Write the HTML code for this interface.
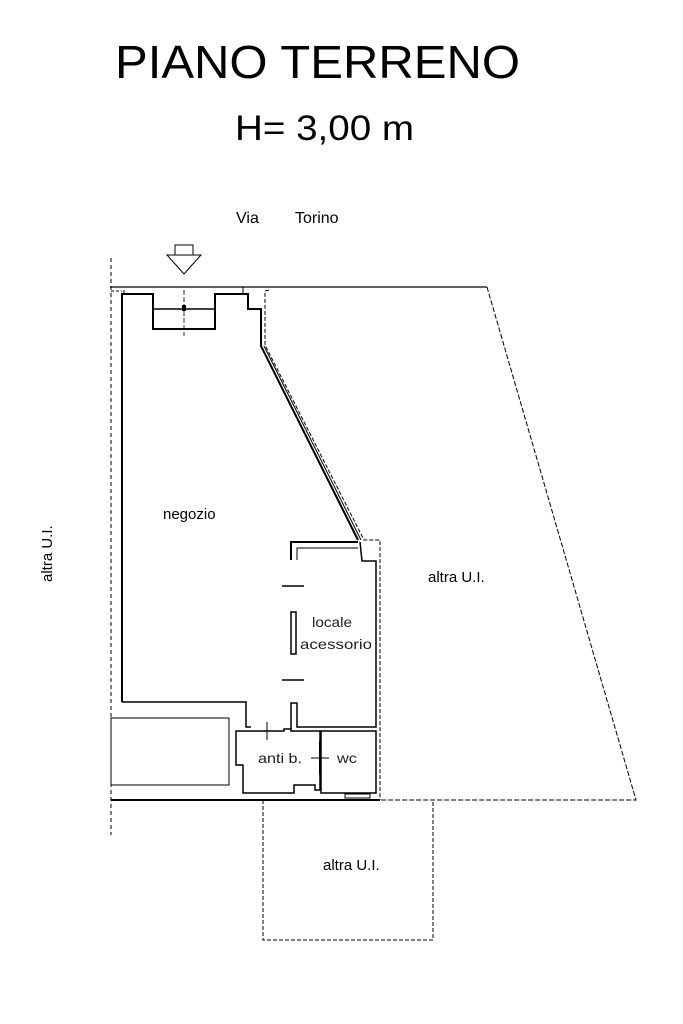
<!DOCTYPE html>
<html><head><meta charset="utf-8"><style>html,body{margin:0;padding:0;background:#fff}svg{display:block}text{font-family:"Liberation Sans",Arial,sans-serif}</style></head>
<body>
<svg width="683" height="1024" viewBox="0 0 683 1024" xmlns="http://www.w3.org/2000/svg">
<rect width="683" height="1024" fill="#fff"/>
<text x="115" y="78" font-size="46" textLength="405" lengthAdjust="spacingAndGlyphs">PIANO TERRENO</text>
<text x="235" y="140" font-size="35" textLength="179" lengthAdjust="spacingAndGlyphs">H= 3,00 m</text>
<text x="236" y="223" font-size="16">Via</text>
<text x="295" y="223" font-size="16">Torino</text>
<g fill="none" stroke="#000">
<rect x="175" y="245" width="18" height="10" stroke-width="1"/>
<path d="M167 255 L201 255 L184 274 Z" stroke-width="1"/>
<line x1="110" y1="287" x2="487" y2="287" stroke-width="1.2"/>
<line x1="111" y1="258" x2="111" y2="835" stroke-width="1" stroke-dasharray="4,3"/>
<line x1="111" y1="291" x2="122" y2="291" stroke-width="1" stroke-dasharray="3,2"/>
<path d="M122 702 L122 294 L153 294 L153 329 L215 329 L215 294 L248 294 L248 309 L261 309 L261 346 L358 540" stroke-width="2"/>
<line x1="153" y1="309" x2="215" y2="309" stroke-width="1.5"/>
<line x1="124" y1="290" x2="124" y2="294" stroke-width="1"/>
<line x1="243" y1="287" x2="243" y2="294" stroke-width="1"/>
<line x1="184" y1="290" x2="184" y2="336" stroke-width="0.8" stroke-dasharray="5,2"/>
<rect x="182" y="305" width="4" height="6" fill="#000" stroke="none"/>
<line x1="264" y1="346" x2="361" y2="540" stroke-width="1"/>
<path d="M269 290 L265 291 L265 345 L364 540 L380 540 L380 800" stroke-width="1" stroke-dasharray="4,2"/>
<path d="M487 287 L636 800 L380 800" stroke-width="1" stroke-dasharray="5,2"/>
<path d="M263 800 L263 940 L433 940 L433 800" stroke-width="1" stroke-dasharray="4,2"/>
<path d="M122 702 L246 702 L246 727 L251 727" stroke-width="1.5"/>
<rect x="111" y="718" width="118" height="67" stroke-width="1"/>
<line x1="111" y1="800" x2="380" y2="800" stroke-width="2"/>
<path d="M291 560 L291 542 L358 542" stroke-width="2"/>
<path d="M297 560 L297 548 L358 548" stroke-width="1"/>
<path d="M360 542 L362 561 L376 561 L376 727 L297 727 L297 703 L291 703 L291 729" stroke-width="1.5"/>
<line x1="282" y1="586" x2="304" y2="586" stroke-width="1.5"/>
<line x1="282" y1="680" x2="304" y2="680" stroke-width="1.5"/>
<rect x="291" y="612" width="5" height="42" stroke-width="1.5"/>
<path d="M251 731 L284 731 L284 729 L291 729 L291 731 L320 731 L320 790 L315 790 L315 785 L294 785 L294 793 L243 793 L243 765 L236 765 L236 731 L251 731" stroke-width="1.5"/>
<line x1="267" y1="722" x2="267" y2="740" stroke-width="1"/>
<line x1="320" y1="741" x2="320" y2="775" stroke-width="2"/>
<line x1="311" y1="758" x2="329" y2="758" stroke-width="1"/>
<path d="M321 731 L376 731 L376 793 L321 793 Z" stroke-width="1.5"/>
<rect x="345" y="794" width="25" height="4" stroke-width="1"/>
</g>
<text x="163" y="519" font-size="15">negozio</text>
<text x="312" y="627" font-size="14" fill="#222" textLength="40" lengthAdjust="spacingAndGlyphs">locale</text>
<text x="300" y="649" font-size="14" fill="#222" textLength="72" lengthAdjust="spacingAndGlyphs">acessorio</text>
<text x="258" y="763" font-size="14" fill="#222" textLength="44" lengthAdjust="spacingAndGlyphs">anti b.</text>
<text x="337" y="763" font-size="14" fill="#222" textLength="20" lengthAdjust="spacingAndGlyphs">wc</text>
<text x="428" y="582" font-size="15">altra U.I.</text>
<text x="323" y="870" font-size="15">altra U.I.</text>
<text transform="translate(52,582) rotate(-90)" font-size="15">altra U.I.</text>
</svg>
</body></html>
